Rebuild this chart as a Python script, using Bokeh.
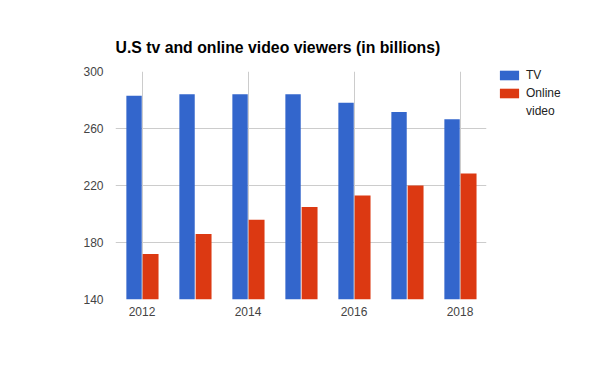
from bokeh.plotting import figure
from bokeh.models import ColumnDataSource, FixedTicker, Legend, LegendItem, Range1d
from bokeh.transform import dodge
from bokeh.embed import file_html
from bokeh.resources import INLINE

years = [2012, 2013, 2014, 2015, 2016, 2017, 2018]
tv = [283, 284, 284, 284, 278, 271.5, 266.5]
online_video = [172, 186, 196, 205, 213, 220, 228.5]
y_ticks = [140, 180, 220, 260, 300]
x_ticks = [2012, 2014, 2016, 2018]

FONT = "Liberation Sans"
GRID = "#cccccc"
LABEL = "#444444"

source = ColumnDataSource(dict(year=years, tv=tv, online=online_video))

p = figure(frame_width=371, frame_height=228, output_backend="svg", toolbar_location=None,
           x_range=Range1d(2011.5, 2018.5), y_range=Range1d(140, 300),
           min_border_left=115, min_border_right=100, min_border_top=71, min_border_bottom=64,
           title="U.S tv and online video viewers (in billions)")
p.outline_line_color = None
p.background_fill_color = "white"
p.border_fill_color = "white"

p.title.text_font = FONT
p.title.text_font_size = "15.8px"
p.title.text_font_style = "bold"
p.title.text_color = "#000000"
p.title.align = "left"
p.title.offset = 0
p.title.standoff = 31

r_tv = p.vbar(x=dodge("year", -0.15, range=p.x_range), top="tv", bottom=140, width=0.29,
              source=source, fill_color="#3366cc", line_color=None)
r_on = p.vbar(x=dodge("year", 0.162, range=p.x_range), top="online", bottom=140, width=0.30,
              source=source, fill_color="#dc3912", line_color=None)
# invisible glyph used only to carry the wrapped second line of the legend label
r_wrap = p.vbar(x=[], top=[], width=0.3, fill_alpha=0, line_alpha=0)

for ax in (p.xaxis[0], p.yaxis[0]):
    ax.axis_line_color = None
    ax.major_tick_line_color = None
    ax.minor_tick_line_color = None
    ax.major_tick_out = 0
    ax.major_tick_in = 0
    ax.major_label_text_font = FONT
    ax.major_label_text_font_size = "12px"
    ax.major_label_text_color = LABEL

p.xaxis[0].ticker = FixedTicker(ticks=x_ticks)
p.yaxis[0].ticker = FixedTicker(ticks=y_ticks)
p.xaxis[0].major_label_standoff = 7
p.yaxis[0].major_label_standoff = 12

p.xgrid[0].ticker = FixedTicker(ticks=x_ticks)
p.ygrid[0].ticker = FixedTicker(ticks=y_ticks)
p.xgrid[0].grid_line_color = GRID
p.ygrid[0].grid_line_color = GRID

legend = Legend(items=[LegendItem(label="TV", renderers=[r_tv]),
                       LegendItem(label="Online", renderers=[r_on]),
                       LegendItem(label="video", renderers=[r_wrap])],
                location=(11, 181), margin=0, padding=0, spacing=4,
                glyph_width=24, glyph_height=12, label_standoff=5,
                label_text_font=FONT, label_text_font_size="12px",
                label_text_color="#222222", border_line_color=None,
                background_fill_alpha=0)
p.add_layout(legend, "right")

open("out.html", "w").write(file_html(p, INLINE))
